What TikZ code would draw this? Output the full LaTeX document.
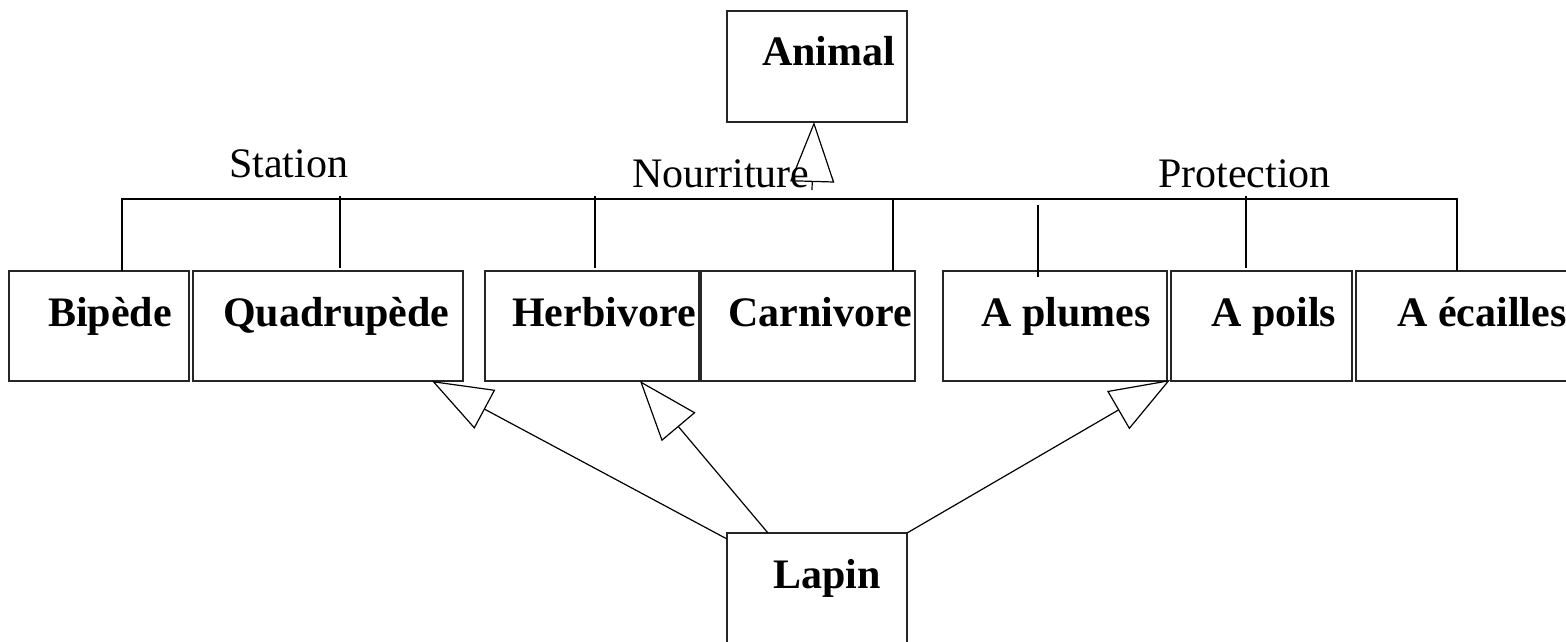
\documentclass[tikz,border=0pt]{standalone}
\usepackage{fontspec}
\setmainfont{Liberation Serif}
\usetikzlibrary{arrows.meta}

\begin{document}
\begin{tikzpicture}[x=1pt, y=-1pt,
  classbox/.style={draw=black!85, line width=1.4pt, rectangle, inner sep=0pt,
    outer sep=0pt, anchor=north west, minimum height=110pt},
  classname/.style={anchor=base west, inner sep=0pt,
    font=\fontsize{42}{50}\selectfont\bfseries},
  facet/.style={anchor=base west, inner sep=0pt,
    font=\fontsize{42}{50}\selectfont},
  tree/.style={line width=2pt, black},
  inherit/.style={line width=1.2pt, black,
    -{Triangle[open, length=60pt, width=44pt, line width=1.2pt]}},
]
\path[use as bounding box, clip] (0,0) rectangle (1566,642);

% superclass
\node[classbox, minimum width=180pt, minimum height=111pt] (Animal) at (727,11) {};
\node[classname] (tAnimal) at (762,66) {Animal};

% specialised classes
\node[classbox, minimum width=180pt] (Bipede)   at (9,271)    {};
\node[classbox, minimum width=270pt] (Quad)     at (193,271)  {};
\node[classbox, minimum width=214pt] (Herb)     at (485,271)  {};
\node[classbox, minimum width=214pt] (Carn)     at (701,271)  {};
\node[classbox, minimum width=224pt] (Plumes)   at (943,271)  {};
\node[classbox, minimum width=181pt] (Poils)    at (1171,271) {};
\node[classbox, minimum width=230pt] (Ecailles) at (1356,271) {};

\node[classname] (tBipede)   at (48,326)   {Bipède};
\node[classname] (tQuad)     at (223,326)  {Quadrupède};
\node[classname] (tHerb)     at (512,326)  {Herbivore};
\node[classname] (tCarn)     at (728,326)  {Carnivore};
\node[classname] (tPlumes)   at (981,326)  {A plumes};
\node[classname] (tPoils)    at (1211,326) {A poils};
\node[classname] (tEcailles) at (1397,326) {A écailles};

% subclass
\node[classbox, minimum width=180pt, minimum height=111pt] (Lapin) at (727,533) {};
\node[classname] (tLapin) at (773,588) {Lapin};

% discriminator labels
\node[facet] (Station)    at (229,177)  {Station};
\node[facet] (Nourriture) at (632,187)  {Nourriture};
\node[facet] (Protection) at (1158,187) {Protection};

% generalisation tree
\coordinate (hl) at (122,199);
\coordinate (hr) at (1457,199);
\draw[tree] (hl |- Bipede.north) -- (hl) -- (hr) -- (hr |- Ecailles.north);
\coordinate (dQa) at (340,196);  \coordinate (dQb) at (340,268);
\coordinate (dHa) at (595,196);  \coordinate (dHb) at (595,268);
\coordinate (dCa) at (893,199);  \coordinate (dCb) at (893,271);
\coordinate (dPa) at (1038,205); \coordinate (dPb) at (1038,277);
\coordinate (dOa) at (1246,196); \coordinate (dOb) at (1246,268);
\draw[tree] (dQa) -- (dQb);
\draw[tree] (dHa) -- (dHb);
\draw[tree] (dCa) -- (dCb);
\draw[tree] (dPa) -- (dPb);
\draw[tree] (dOa) -- (dOb);

% inheritance arrow to the superclass
\coordinate (stem) at (812,190);
\coordinate (animtip) at (814,122);
\draw[inherit] (stem) -- (animtip);

% inheritance arrows from the subclass
\coordinate (lapL) at (727,539);
\coordinate (lapM) at (768,533);
\coordinate (quadtip) at (432,381);
\coordinate (herbtip) at (640,381);
\coordinate (poilstip) at (1170,380);
\draw[inherit] (lapL) -- (quadtip);
\draw[inherit] (lapM) -- (herbtip);
\draw[inherit] (Lapin.north east) -- (poilstip);
\end{tikzpicture}
\end{document}
